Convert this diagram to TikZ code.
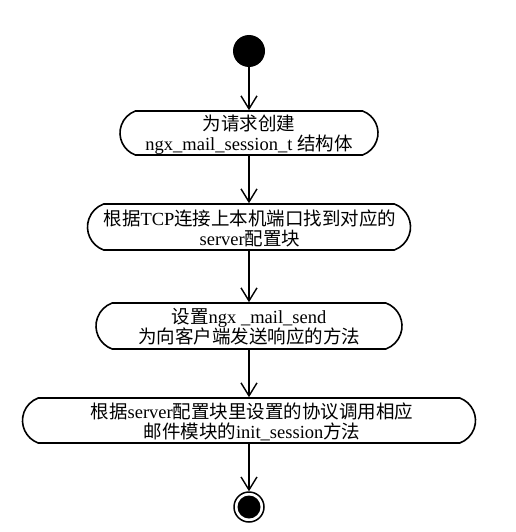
\documentclass[tikz,border=0pt]{standalone}
\usepackage{fontspec}
\setmainfont{Liberation Serif}
\newfontfamily\cjk{Noto Sans CJK SC}
\usetikzlibrary{shapes.misc,arrows.meta}
\newcommand\zh[1]{{\cjk #1}}
\begin{document}
\begin{tikzpicture}[x=1pt,y=-1pt,
  act/.style={draw,line width=1.6pt,rounded rectangle,rounded rectangle arc length=140,
    inner sep=0pt},
  txt/.style={inner sep=0pt,align=center,font=\fontsize{18.5}{20}\selectfont},
  flow/.style={line width=1.4pt,-{Straight Barb[length=13pt,width=16pt,line width=1.4pt]}},
  dot/.style={circle,fill=black,inner sep=0pt}]
\useasboundingbox (0,0) rectangle (515,532);
\node[dot,minimum size=32pt] (start) at (249,51) {};
\node[act,minimum width=258pt,minimum height=44pt] (a1) at (249,133) {};
\node[txt] (t1) at (249,135) {\zh{为请求创建}\\ngx\_mail\_session\_t \zh{结构体}};
\node[act,minimum width=323pt,minimum height=46pt] (a2) at (249,227) {};
\node[txt] (t2) at (250,228.5) {\zh{根据}TCP\zh{连接上本机端口找到对应的}\\server\zh{配置块}};
\node[act,minimum width=306pt,minimum height=46pt] (a3) at (249,326) {};
\node[txt] (t3) at (249,327) {\zh{设置}ngx \_mail\_send\\\zh{为向客户端发送响应的方法}};
\node[act,minimum width=453pt,minimum height=45pt] (a4) at (249,420.5) {};
\node[txt] (t4) at (252,421.5) {\zh{根据}server\zh{配置块里设置的协议调用相应}\\\zh{邮件模块的}init\_session\zh{方法}};
\node[circle,draw=black,line width=1.5pt,minimum size=30pt,inner sep=0pt] (end) at (249,507) {};
\node[dot,minimum size=23pt] (endin) at (end) {};
\draw[flow] (start) -- (a1);
\draw[flow] (a1) -- (a2);
\draw[flow] (a2) -- (a3);
\draw[flow] (a3) -- (a4);
\draw[flow] (a4) -- (end);
\end{tikzpicture}
\end{document}
